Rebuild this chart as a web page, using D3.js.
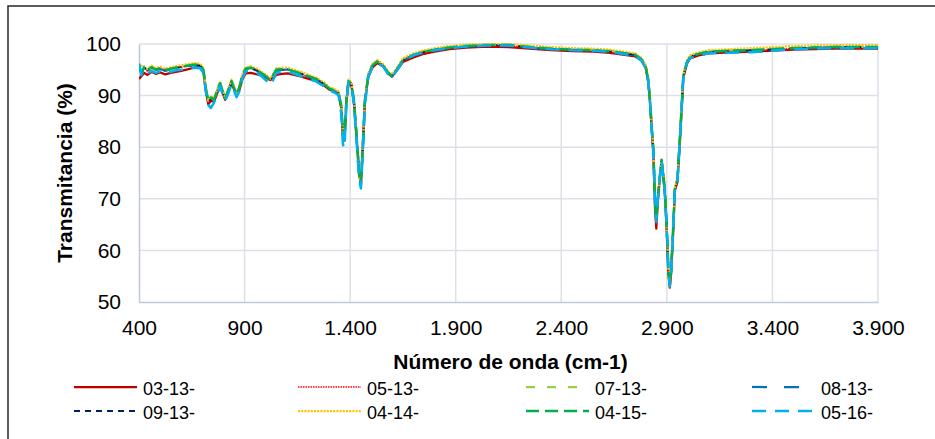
<!DOCTYPE html>
<html>
<head>
<meta charset="utf-8">
<script src="https://cdn.jsdelivr.net/npm/d3@7/dist/d3.min.js"></script>
<style>
  html, body { margin: 0; padding: 0; background: #fff; }
  svg { display: block; }
  text { font-family: "Liberation Sans", Arial, sans-serif; fill: #000; }
</style>
</head>
<body>
<svg id="chart" width="935" height="439"></svg>
<script>
// Wavenumber grid (cm-1) shared by all spectra
const wavenumbers = [
  400,412,425,440,460,480,500,525,550,575,
  600,630,660,690,705,716,728,740,755,770,
  784,796,808,822,838,850,862,875,890,905,
  930,960,985,1005,1022,1035,1050,1075,1105,1135,
  1165,1200,1240,1275,1300,1325,1345,1358,1366,1373,
  1382,1392,1406,1418,1430,1442,1451,1460,1470,1486,
  1505,1528,1555,1580,1598,1620,1650,1700,1750,1800,
  1870,1950,2050,2150,2250,2350,2450,2550,2630,2700,
  2750,2780,2800,2812,2820,2828,2836,2844,2850,2858,
  2866,2875,2884,2892,2900,2907,2914,2920,2928,2938,
  2950,2963,2978,2995,3010,3050,3100,3200,3300,3400,
  3500,3600,3700,3800,3900
];

// Transmittance (%) per sample
const t_03_13 = [
  93.2,93.8,94.4,94.0,94.6,94.2,94.5,94.1,94.4,94.6,
  94.8,95.1,95.4,95.5,94.6,91.0,88.3,89.0,88.8,90.4,
  92.0,90.5,89.2,90.6,92.4,91.2,90.0,91.0,93.2,94.3,
  94.4,94.1,93.8,93.4,93.0,93.3,94.0,94.2,94.3,94.0,
  93.7,93.3,92.8,92.0,91.2,90.8,90.2,87.5,82.0,81.3,
  88.5,92.4,92.0,88.5,82.0,75.0,72.6,80.5,89.0,93.6,
  95.4,96.3,95.7,94.3,93.7,94.8,96.5,97.4,98.1,98.5,
  99.0,99.3,99.5,99.4,99.1,98.8,98.6,98.5,98.3,97.9,
  97.6,96.8,95.3,92.6,88.8,83.5,78.8,68.0,64.2,70.0,
  73.6,77.2,74.0,70.0,63.2,55.6,52.8,55.4,62.0,71.6,
  73.2,82.0,93.4,96.2,97.2,97.8,98.2,98.4,98.5,98.7,
  98.9,99.0,99.1,99.1,99.1
];
const t_05_13 = [
  95.0,94.2,95.4,94.7,95.3,94.9,95.2,94.8,95.1,95.3,
  95.5,95.7,95.9,95.8,94.9,91.3,88.7,89.5,89.1,90.7,
  92.3,90.7,89.3,90.9,92.7,91.4,90.1,91.4,93.9,95.1,
  95.3,94.8,94.1,93.5,92.9,93.8,94.9,95.0,95.0,94.6,
  94.2,93.7,93.1,92.2,91.3,90.9,90.4,87.8,82.2,81.2,
  88.8,92.7,92.2,88.8,82.2,75.2,72.8,80.0,89.0,93.9,
  95.7,96.5,95.8,94.3,93.7,94.9,96.8,97.8,98.4,98.8,
  99.2,99.5,99.7,99.7,99.3,99.0,98.8,98.7,98.5,98.1,
  97.8,96.9,95.5,92.9,89.0,83.8,79.2,69.0,65.2,70.3,
  73.9,77.4,74.3,70.3,63.7,56.2,53.2,55.8,62.3,71.9,
  73.5,82.4,93.7,96.4,97.4,98.0,98.4,98.6,98.7,98.9,
  99.1,99.2,99.3,99.3,99.3
];
const t_07_13 = [
  95.8,94.6,95.7,95.0,95.6,95.1,95.4,95.0,95.3,95.5,
  95.7,95.9,96.1,96.0,95.1,91.6,89.0,89.7,89.3,90.9,
  92.5,90.9,89.5,91.1,92.9,91.6,90.3,91.6,94.1,95.3,
  95.5,95.0,94.3,93.7,93.1,94.0,95.1,95.2,95.2,94.8,
  94.4,93.9,93.3,92.4,91.5,91.1,90.6,88.1,82.6,81.6,
  89.1,92.9,92.4,89.1,82.6,75.6,73.1,80.1,89.1,94.1,
  95.9,96.7,96.0,94.5,93.9,95.1,97.0,98.0,98.6,99.0,
  99.4,99.7,99.9,99.9,99.5,99.2,99.0,98.9,98.7,98.3,
  98.0,97.1,95.7,93.1,89.3,84.1,79.6,69.6,66.1,70.6,
  74.1,77.6,74.6,70.6,64.1,56.6,53.6,56.1,62.6,72.1,
  73.7,82.6,93.9,96.6,97.6,98.2,98.6,98.8,98.9,99.1,
  99.3,99.4,99.5,99.5,99.5
];
const t_08_13 = [
  96.0,94.3,95.5,94.8,95.4,94.9,95.2,94.8,95.1,95.3,
  95.5,95.7,95.9,95.8,94.9,91.4,88.8,89.5,89.1,90.7,
  92.3,90.7,89.3,90.9,92.7,91.4,90.1,91.4,93.9,95.1,
  95.3,94.8,94.1,93.4,92.8,93.7,94.8,95.0,95.1,94.6,
  94.2,93.7,93.1,92.2,91.3,90.9,90.4,87.9,82.3,81.3,
  88.9,92.7,92.2,88.9,82.4,75.4,72.9,79.9,88.9,93.9,
  95.7,96.5,95.8,94.3,93.7,94.9,96.8,97.8,98.4,98.8,
  99.2,99.5,99.7,99.7,99.3,99.0,98.8,98.7,98.5,98.1,
  97.8,96.9,95.5,92.9,89.1,83.9,79.4,69.4,65.8,70.4,
  73.9,77.4,74.4,70.4,63.9,56.4,53.4,55.9,62.4,71.9,
  73.5,82.4,93.7,96.4,97.4,98.0,98.4,98.6,98.7,98.9,
  99.1,99.2,99.3,99.3,99.3
];
const t_09_13 = [
  95.4,94.6,95.5,95.0,95.5,95.1,95.3,95.0,95.2,95.4,
  95.6,95.8,96.0,95.9,95.0,91.5,88.6,89.6,89.2,90.8,
  92.4,90.8,89.4,91.0,92.8,91.5,90.2,91.5,94.0,95.2,
  95.4,94.9,94.2,93.6,93.0,93.9,95.0,95.1,95.1,94.7,
  94.3,93.8,93.2,92.3,91.4,91.0,90.5,88.0,82.5,81.4,
  89.0,92.8,92.3,89.0,82.5,75.5,73.0,80.0,89.0,94.0,
  95.8,96.6,95.9,94.4,93.8,95.0,96.9,97.9,98.5,98.9,
  99.3,99.6,99.8,99.8,99.4,99.1,98.9,98.8,98.6,98.2,
  97.9,97.0,95.6,93.0,89.2,84.0,79.5,69.5,65.8,70.5,
  74.0,77.5,74.5,70.5,64.0,56.5,53.4,56.0,62.5,72.0,
  73.6,82.5,93.8,96.5,97.5,98.1,98.5,98.7,98.8,99.0,
  99.2,99.3,99.4,99.4,99.4
];
const t_04_14 = [
  95.2,95.8,95.3,95.2,95.8,95.3,95.6,95.2,95.5,95.7,
  95.9,96.1,96.3,96.2,95.3,91.8,89.2,89.9,89.5,91.1,
  92.7,91.1,89.7,91.3,93.1,91.8,90.5,91.8,94.3,95.5,
  95.7,95.2,94.5,93.9,93.3,94.2,95.3,95.4,95.4,95.0,
  94.6,94.1,93.5,92.6,91.7,91.3,90.8,88.3,82.8,81.8,
  89.3,93.1,92.6,89.3,82.8,75.8,73.3,80.3,89.3,94.3,
  96.1,96.9,96.2,94.7,94.1,95.3,97.2,98.2,98.8,99.2,
  99.6,99.9,100.0,100.0,99.7,99.4,99.2,99.1,98.9,98.5,
  98.2,97.3,95.9,93.3,89.5,84.3,79.8,69.8,66.3,70.8,
  74.3,77.8,74.8,70.8,64.3,56.8,53.8,56.3,62.8,72.3,
  73.9,82.8,94.1,96.8,97.8,98.4,98.8,99.0,99.2,99.4,
  99.6,99.7,99.8,99.8,99.8
];
const t_04_15 = [
  95.5,94.4,95.6,94.9,95.5,95.0,95.3,94.9,95.2,95.4,
  95.6,95.8,96.0,95.9,95.0,91.5,88.9,89.6,89.2,90.8,
  92.4,90.8,89.4,91.0,92.8,91.5,90.2,91.5,94.0,95.2,
  95.4,94.9,94.2,93.6,93.0,93.9,95.0,95.1,95.1,94.7,
  94.3,93.8,93.2,92.3,91.4,91.0,90.5,88.0,82.5,81.5,
  89.0,92.8,92.3,89.0,82.5,75.5,73.0,80.0,89.0,94.0,
  95.8,96.6,95.9,94.4,93.8,95.0,96.9,97.9,98.5,98.9,
  99.3,99.6,99.8,99.8,99.4,99.1,98.9,98.8,98.6,98.2,
  97.9,97.0,95.6,93.0,89.2,84.0,79.5,69.5,66.0,70.5,
  74.0,77.5,74.5,70.5,64.0,56.5,53.5,56.0,62.5,72.0,
  73.6,82.5,93.8,96.5,97.5,98.1,98.5,98.7,98.8,99.0,
  99.2,99.3,99.4,99.4,99.4
];
const t_05_16 = [
  96.2,94.0,95.0,94.3,94.8,94.4,94.7,94.3,94.6,94.9,
  95.0,95.2,95.4,95.3,94.4,90.9,88.2,87.6,88.6,90.2,
  91.9,90.2,89.0,90.3,92.2,91.0,89.7,90.8,93.4,94.7,
  94.8,94.4,93.6,92.8,92.0,93.0,94.4,94.6,94.7,94.2,
  93.8,93.3,92.7,91.8,91.0,90.6,90.1,86.5,80.5,79.8,
  88.0,92.6,92.0,88.3,81.5,74.0,72.0,79.0,88.2,93.6,
  95.5,96.4,95.7,94.1,93.5,94.8,96.7,97.8,98.4,98.8,
  99.2,99.5,99.7,99.7,99.3,99.0,98.8,98.7,98.5,98.0,
  97.7,96.8,95.3,92.7,88.8,83.6,79.0,69.0,65.5,70.3,
  73.8,77.2,74.2,70.2,63.5,56.0,53.0,55.6,62.2,71.8,
  73.3,82.2,93.6,96.3,97.3,97.8,98.2,98.3,98.4,98.7,
  99.0,99.1,99.2,99.2,99.2
];

const seriesNames = ["03-13-","05-13-","07-13-","08-13-","09-13-","04-14-","04-15-","05-16-"];
const seriesValues = [t_03_13, t_05_13, t_07_13, t_08_13, t_09_13, t_04_14, t_04_15, t_05_16];
const xTicks = [400, 900, 1400, 1900, 2400, 2900, 3400, 3900];
const yTicks = [50, 60, 70, 80, 90, 100];

// Line styles for each sample
const styles = [
  { color: "#C00000", width: 2.25, dash: null },
  { color: "#FF0000", width: 1.5,  dash: "1.5,1" },
  { color: "#92D050", width: 2.25, dash: "9,12" },
  { color: "#0070C0", width: 2.25, dash: "15,17" },
  { color: "#002060", width: 2.0,  dash: "6,5" },
  { color: "#FFC000", width: 2.25, dash: "2,1.2" },
  { color: "#00B050", width: 2.5,  dash: "13,6" },
  { color: "#00B0F0", width: 2.5,  dash: "14,9" }
];

const svg = d3.select("#chart");
const plot = { left: 139, right: 878, top: 44, bottom: 302 };

// Outer chart frame (extends past the right/bottom edge of the view)
svg.append("rect")
  .attr("x", 8).attr("y", 6).attr("width", 960).attr("height", 470)
  .attr("fill", "none").attr("stroke", "#262626").attr("stroke-width", 1.5);

const x = d3.scaleLinear().domain([400, 3900]).range([plot.left, plot.right]);
const y = d3.scaleLinear().domain([50, 100]).range([plot.bottom, plot.top]);

// Gridlines
const grid = svg.append("g");
grid.selectAll("line.h").data(yTicks.filter(d => d > 50)).join("line")
  .attr("x1", plot.left).attr("x2", plot.right)
  .attr("y1", d => y(d)).attr("y2", d => y(d))
  .attr("stroke", "#DCE1E8").attr("stroke-width", 1.5);
grid.selectAll("line.v").data(xTicks.filter(d => d > 400)).join("line")
  .attr("y1", plot.top).attr("y2", plot.bottom)
  .attr("x1", d => x(d)).attr("x2", d => x(d))
  .attr("stroke", "#DCE1E8").attr("stroke-width", 1.5);

// Axes
const xAxis = svg.append("g").attr("transform", `translate(0,${plot.bottom})`)
  .call(d3.axisBottom(x).tickValues(xTicks).tickSize(0).tickPadding(18)
    .tickFormat(d => d3.format(",")(d).replace(/,/g, ".")));
const yAxis = svg.append("g").attr("transform", `translate(${plot.left},0)`)
  .call(d3.axisLeft(y).tickValues(yTicks).tickSize(0).tickPadding(18));
[xAxis, yAxis].forEach(a => {
  a.select(".domain").attr("stroke", "#BFC8D6").attr("stroke-width", 1.5);
  a.selectAll("text").style("font-size", "21px").style("font-family", '"Liberation Sans", Arial, sans-serif').attr("fill", "#000");
});

// Spectra
const line = d3.line().x((d, i) => x(wavenumbers[i])).y(d => y(d));
svg.append("clipPath").attr("id", "plotclip").append("rect")
  .attr("x", plot.left).attr("y", plot.top - 6)
  .attr("width", plot.right - plot.left + 2).attr("height", plot.bottom - plot.top + 6);
const lines = svg.append("g").attr("clip-path", "url(#plotclip)");
seriesValues.forEach((vals, k) => {
  const s = styles[k];
  lines.append("path").datum(vals)
    .attr("d", line)
    .attr("fill", "none")
    .attr("stroke", s.color)
    .attr("stroke-width", s.width)
    .attr("stroke-linejoin", "round")
    .attr("stroke-dasharray", s.dash);
});

// Axis titles
svg.append("text")
  .attr("x", (plot.left + plot.right) / 2 + 2).attr("y", 369)
  .attr("text-anchor", "middle")
  .style("font-size", "21px").style("font-weight", "bold")
  .text("Número de onda (cm-1)");
svg.append("text")
  .attr("transform", `translate(72,${(plot.top + plot.bottom) / 2}) rotate(-90)`)
  .attr("text-anchor", "middle")
  .style("font-size", "21px").style("font-weight", "bold")
  .text("Transmitancia (%)");

// Legend: 4 columns x 2 rows
const legendCols = [143, 367, 595, 821];
const legendRows = [387, 411];
const legend = svg.append("g");
seriesNames.forEach((name, k) => {
  const cx = legendCols[k % 4];
  const cy = legendRows[Math.floor(k / 4)];
  const s = styles[k];
  legend.append("line")
    .attr("x1", cx - 69).attr("x2", cx - 6)
    .attr("y1", cy).attr("y2", cy)
    .attr("stroke", s.color).attr("stroke-width", s.width)
    .attr("stroke-dasharray", s.dash);
  legend.append("text")
    .attr("x", cx).attr("y", cy + 8)
    .style("font-size", "18px")
    .text(name);
});
</script>
</body>
</html>
